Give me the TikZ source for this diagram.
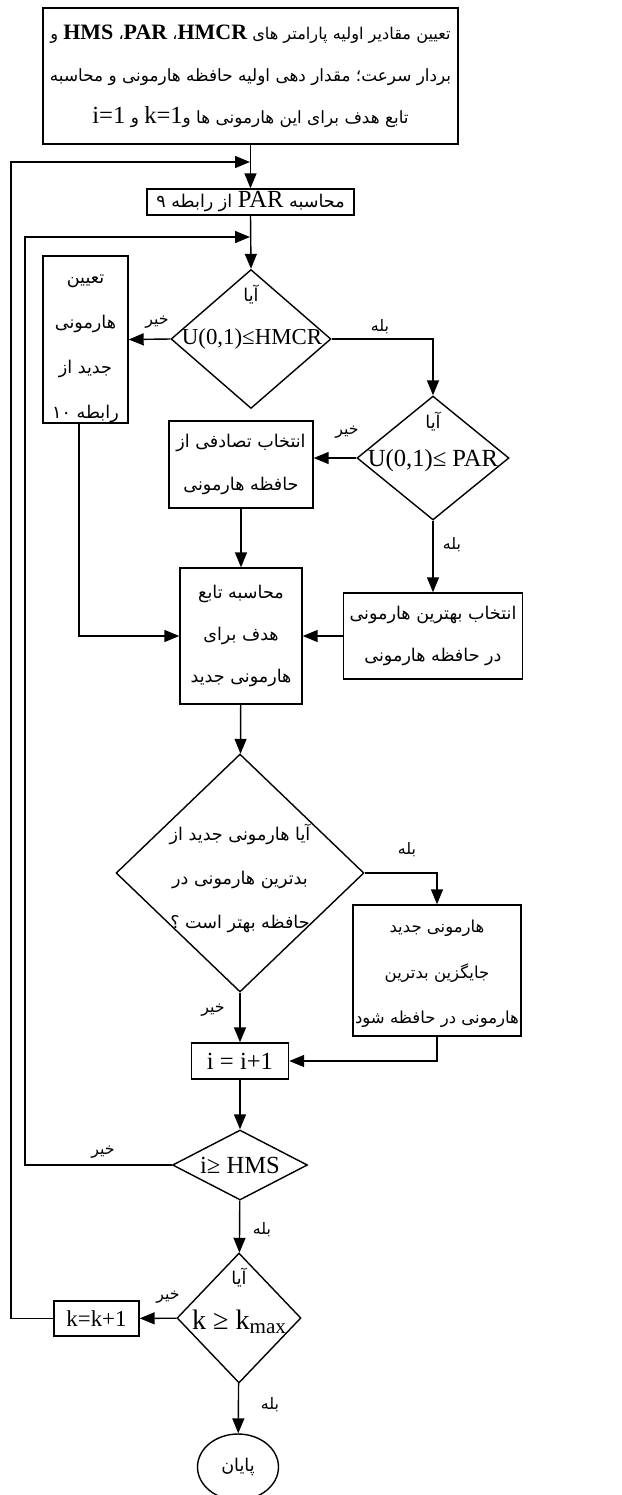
\documentclass[tikz,border=0pt]{standalone}
\usepackage{fontspec}
\setmainfont{Liberation Serif}
\newfontfamily\farsi[Script=Arabic]{DejaVu Sans}
\TeXXeTstate=1
\usetikzlibrary{shapes.geometric}
\usetikzlibrary{arrows.meta, calc}
\usetikzlibrary{positioning}

\newcommand\fa[1]{{\farsi\beginR #1\endR}}
\newcommand\en[1]{\beginL{\rmfamily\fontsize{14}{24}\selectfont #1}\endL}
\newcommand\enb[1]{\beginL{\rmfamily\bfseries\fontsize{12.5}{24}\selectfont #1}\endL}

\begin{document}
\begin{tikzpicture}
  [
    x=0.02cm, y=-0.02cm,
    line width=0.8pt,
    >={Triangle[length=3mm,width=2.4mm]},
    box/.style      = {draw, rectangle, fill=white, inner sep=1pt, align=center, font=\fontsize{10}{24}\selectfont},
    decision/.style = {draw, diamond, fill=white, inner sep=0pt},
    stopnode/.style = {draw, ellipse, inner sep=0pt, font=\fontsize{10}{12}\selectfont},
    txt/.style      = {inner sep=0pt, align=center, font=\fontsize{10}{24}\selectfont},
    lat/.style      = {inner sep=0pt, font=\fontsize{13}{16}\selectfont},
    lbl/.style      = {inner sep=0pt, font=\fontsize{9}{11}\selectfont},
  ]

  \useasboundingbox (0,0) rectangle (622,1495);

  % boxes
  \node (init) at (250.5,76) [box, minimum width=8.3cm, minimum height=2.72cm, font=\fontsize{9.6}{24}\selectfont]
    {{\fontsize{9.2}{24}\selectfont\fa{تعیین مقادیر اولیه پارامتر های \enb{HMCR}، \enb{PAR}، \enb{HMS} و}}\\
     \fa{بردار سرعت؛ مقدار دهی اولیه حافظه هارمونی و محاسبه}\\
     \fa{تابع هدف برای این هارمونی ها و\en{k=1} و \en{i=1}}};
  \node (par) at (250.5,202) [box, minimum width=4.14cm, minimum height=0.52cm]
    {\fa{محاسبه \en{PAR} از رابطه ۹}};
  \node (newh) at (85.5,339.5) [box, minimum width=1.7cm, minimum height=3.34cm] {};
  \node (newht) at (85.5,349) [txt, font=\fontsize{10}{25.5}\selectfont]
    {\fa{تعیین}\\ \fa{هارمونی}\\ \fa{جدید از}\\ \fa{رابطه ۱۰}};
  \node (rand) at (241,464.5) [box, minimum width=2.88cm, minimum height=1.74cm]
    {\fa{انتخاب تصادفی از}\\ \fa{حافظه هارمونی}};
  \node (calc) at (241,636) [box, minimum width=2.44cm, minimum height=2.72cm]
    {\fa{محاسبه تابع}\\ \fa{هدف برای}\\ \fa{هارمونی جدید}};
  \node (best) at (433,636) [box, minimum width=3.58cm, minimum height=1.72cm]
    {\fa{انتخاب بهترین هارمونی}\\ \fa{در حافظه هارمونی}};
  \node (repl) at (437,970.5) [box, minimum width=3.36cm, minimum height=2.62cm] {};
  \node (replt) at (437,974) [txt, font=\fontsize{9.4}{26}\selectfont]
    {\fa{هارمونی جدید}\\ \fa{جایگزین بدترین}\\ \fa{هارمونی در حافظه شود}};
  \node (inc) at (240,1061) [box, minimum width=1.94cm, minimum height=0.72cm, font=\fontsize{14}{16}\selectfont]
    {i = i+1};
  \node (kinc) at (96.5,1318.5) [box, minimum width=1.7cm, minimum height=0.7cm, font=\fontsize{13}{15}\selectfont]
    {k=k+1};
  \node (stop) at (238,1467) [stopnode, minimum width=1.62cm, minimum height=1.32cm] {\fa{پایان}};

  % decisions
  \node (q1) at (251,339) [decision, minimum width=3.2cm, minimum height=2.78cm] {};
  \node (q1a) at ($(q1)+(0,-44)$) [txt] {\fa{آیا}};
  \node (q1b) at ($(q1)+(1,0)$) [lat] {U(0,1)≤HMCR};

  \node (q2) at (433,458) [decision, minimum width=3.04cm, minimum height=2.48cm] {};
  \node (q2a) at ($(q2)+(0,-36)$) [txt] {\fa{آیا}};
  \node (q2b) at ($(q2)+(0,3)$) [lat, font=\fontsize{14}{16}\selectfont] {U(0,1)≤ PAR};

  \node (q3) at (240,873) [decision, minimum width=4.96cm, minimum height=4.76cm] {};
  \node (q3t) at ($(q3)+(0,5)$) [txt, font=\fontsize{10}{25}\selectfont]
    {\fa{آیا هارمونی جدید از}\\ \fa{بدترین هارمونی در}\\ \fa{حافظه بهتر است ؟}};

  \node (q4) at (240,1165) [decision, minimum width=2.7cm, minimum height=1.4cm] {};
  \node (q4t) at (q4) [lat, font=\fontsize{14}{16}\selectfont] {i≥ HMS};

  \node (q5) at (239,1318) [decision, minimum width=2.48cm, minimum height=2.6cm] {};
  \node (q5a) at ($(q5)+(0,-40)$) [txt] {\fa{آیا}};
  \node (q5b) at ($(q5)+(0,4)$) [lat, font=\fontsize{16}{18}\selectfont] {k ≥ k\raisebox{-0.35ex}{\fontsize{12}{12}\selectfont max}};

  % loop corners
  \coordinate (m1) at (250,162);
  \coordinate (m2) at (250,237);
  \coordinate (l1) at (11,162);
  \coordinate (l2) at (25,237);
  \coordinate (nh) at (79,423);

  % connectors
  \draw[->] (init) -- (par);
  \draw[->] (par.south) -- (q1.north);
  \draw[->] (q1.west) -- (newh.east);
  \draw[->] (q1.east) -| (q2.north);
  \draw[->] (q2.west) -- (q2.west -| rand.east);
  \draw[->] (q2) -- (best);
  \draw[->] (rand) -- (calc);
  \draw[->] (best) -- (calc);
  \draw[->] (nh) |- (calc.west);
  \draw[->] (calc) -- (q3);
  \draw[->] (q3.east) -| (repl.north);
  \draw[->] (q3) -- (inc);
  \draw[->] (repl.south) |- (inc.east);
  \draw[->] (inc) -- (q4);
  \draw[->] (q4.west) -| (l2) -- (m2);
  \draw[->] (q4) -- (q5);
  \draw[->] (q5) -- (kinc);
  \draw[->] (kinc.west) -| (l1) -- (m1);
  \draw[->] (q5) -- (stop);

  % yes / no labels
  \node (no1)  at (157,322)  [lbl] {\fa{خیر}};
  \node (yes1) at (380,327)  [lbl] {\fa{بله}};
  \node (no2)  at (347,432)  [lbl] {\fa{خیر}};
  \node (yes2) at (452,545)  [lbl] {\fa{بله}};
  \node (yes3) at (407,850)  [lbl] {\fa{بله}};
  \node (no3)  at (213,1010) [lbl] {\fa{خیر}};
  \node (no4)  at (103,1152) [lbl] {\fa{خیر}};
  \node (yes4) at (262,1230) [lbl] {\fa{بله}};
  \node (no5)  at (168,1297) [lbl] {\fa{خیر}};
  \node (yes5) at (270,1405) [lbl] {\fa{بله}};

\end{tikzpicture}
\end{document}
